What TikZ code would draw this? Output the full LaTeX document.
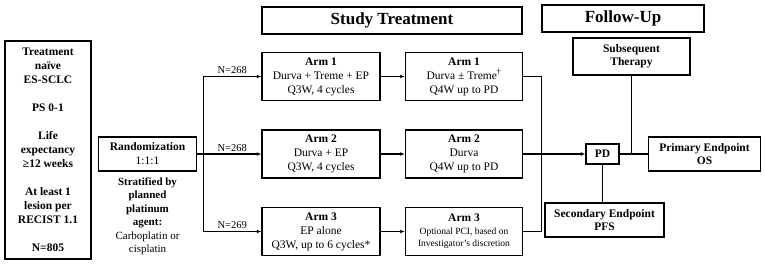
\documentclass[tikz,border=0pt]{standalone}
\usepackage{fontspec}
\setmainfont{Liberation Serif}
\usetikzlibrary{arrows.meta,calc,positioning}

\begin{document}
\begin{tikzpicture}[
  x=1pt,y=-1pt,
  node distance=24pt and 24pt,
  box/.style={draw,line width=1.5pt,align=center,inner sep=1pt,minimum width=118pt,minimum height=48pt,font=\fontsize{11.5}{14}\selectfont},
  head/.style={draw,line width=1.5pt,align=center,minimum height=27pt,font=\fontsize{17}{18}\selectfont\bfseries},
  fup/.style={draw,line width=1.5pt,align=center,inner sep=1pt,minimum height=34pt,font=\fontsize{11.5}{13}\selectfont\bfseries},
  arr/.style={-{Latex[length=4.5pt,width=4pt]},line width=1.2pt},
  link/.style={line width=1.2pt},
  nlab/.style={font=\fontsize{10.5}{12}\selectfont,above,inner sep=2pt}
]
  \useasboundingbox (0,0) rectangle (765,266);

  % eligibility and randomization
  \node[box,minimum width=86pt,minimum height=218pt,font=\fontsize{11.5}{14}\selectfont\bfseries] (elig) at (48,150)
    {Treatment\\naïve\\ES-SCLC\\[14pt]PS 0-1\\[14pt]Life\\expectancy\\≥12 weeks\\[14pt]At least 1\\lesion per\\RECIST 1.1\\[14pt]N=805};
  \node[box,minimum width=98pt,minimum height=34pt,right=6pt of elig,yshift=-4pt] (rand)
    {\textbf{Randomization}\\1:1:1};
  \node[align=center,font=\fontsize{11}{13.5}\selectfont,below=2pt of rand] (strat)
    {\textbf{Stratified by}\\\textbf{planned}\\\textbf{platinum}\\\textbf{agent:}\\Carboplatin or\\cisplatin};

  % study treatment
  \node[box] (a2) at (321,154) {\textbf{Arm 2}\\Durva + EP\\Q3W, 4 cycles};
  \node[box,above=28pt of a2] (a1) {\textbf{Arm 1}\\Durva + Treme + EP\\Q3W, 4 cycles};
  \node[box,below=28pt of a2] (a3) {\textbf{Arm 3}\\EP alone\\Q3W, up to 6 cycles*};
  \node[box,minimum width=117pt,right=24pt of a1] (m1) {\textbf{Arm 1}\\Durva ± Treme\textsuperscript{†}\\Q4W up to PD};
  \node[box,minimum width=117pt,right=24pt of a2] (m2) {\textbf{Arm 2}\\Durva\\Q4W up to PD};
  \node[box,minimum width=117pt,right=24pt of a3,font=\fontsize{9.5}{12.5}\selectfont] (m3)
    {{\fontsize{11.5}{14}\selectfont\bfseries Arm 3}\\Optional PCI, based on\\Investigator’s discretion};
  \node[head,minimum width=260pt] (study) at (392,20.5) {Study Treatment};

  % follow-up
  \node[head,minimum width=162pt] (follow) at (623,18.5) {Follow-Up};
  \node[fup,minimum width=117pt,minimum height=37pt] (subs) at (631.5,56.5) {Subsequent\\Therapy};
  \node[draw,line width=1.5pt,font=\fontsize{11.5}{13}\selectfont\bfseries,minimum width=33pt,minimum height=20pt,inner sep=1pt] (pd) at (602.5,154) {PD};
  \node[fup,minimum width=112pt,right=28pt of pd] (prim) {Primary Endpoint\\OS};
  \node[fup,minimum width=119pt] (sec) at (604.5,220) {Secondary Endpoint\\PFS};

  \coordinate (split) at ($(rand.east)+(6,0)$);
  \draw[link] (rand.east) -- (split);
  \draw[link] (split |- a1) -- (split |- a3);
  \draw[arr] (split |- a1) -- node[nlab] {N=268} (a1);
  \draw[arr] (split |- a2) -- node[nlab] {N=268} (a2);
  \draw[arr] (split |- a3) -- node[nlab] {N=269} (a3);
  \draw[arr] (a1) -- (m1);
  \draw[arr] (a2) -- (m2);
  \draw[arr] (a3) -- (m3);

  \coordinate (join) at ($(m1.east)+(18,0)$);
  \draw[link] (m1.east) -- (join) |- (m3.east);
  \draw[arr] (m2) -- (pd);
  \draw[link] (pd) -- (prim);
  \draw[link] (subs.south) -- (subs.south |- pd);
  \draw[link] (pd.south) -- (pd.south |- sec.north);
\end{tikzpicture}
\end{document}
